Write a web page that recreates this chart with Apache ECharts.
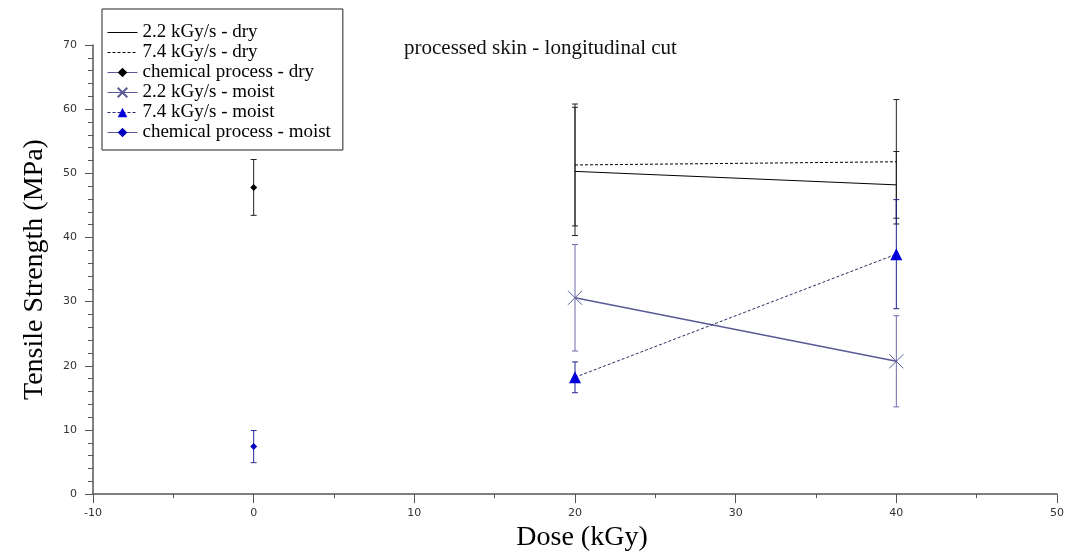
<!DOCTYPE html>
<html>
<head>
<meta charset="utf-8">
<script src="https://cdn.jsdelivr.net/npm/echarts@6/dist/echarts.min.js"></script>
<style>
  html, body { margin: 0; padding: 0; background: #fff; }
  #chart { width: 1068px; height: 557px; }
</style>
</head>
<body>
<div id="chart"></div>
<script>
// dose (kGy) of each measured group
var doses = [20, 40];
var chemDose = [0];

// dry samples: mean and error (MPa)
var dry22 = [50.3, 48.2];
var dry22Err = [10.0, 5.2];
var dry74 = [51.3, 51.8];
var dry74Err = [9.5, 9.7];
var chemDry = [47.8];
var chemDryErr = [4.35];

// moist samples
var moist22 = [30.6, 20.7];
var moist22Err = [8.3, 7.1];
var moist74 = [18.2, 37.4];
var moist74Err = [2.4, 8.5];
var chemMoist = [7.4];
var chemMoistErr = [2.5];

var serif = 'Liberation Serif';

function pairs(xs, ys) {
    return xs.map(function (x, i) { return [x, ys[i]]; });
}

//error bar as custom series
function errSeries(name, xs, ys, es, color) {
    return {
        name: name,
        type: 'custom',
        z: 1,
        data: xs.map(function (x, i) { return [x, ys[i], es[i]]; }),
        renderItem: function (params, api) {
            var x = api.value(0), y = api.value(1), e = api.value(2);
            var top = api.coord([x, y + e]);
            var bot = api.coord([x, y - e]);
            var st = { stroke: color, lineWidth: 1 };
            return {
                type: 'group',
                children: [
                    { type: 'line', shape: { x1: top[0], y1: top[1], x2: bot[0], y2: bot[1] }, style: st },
                    { type: 'line', shape: { x1: top[0] - 3, y1: top[1], x2: top[0] + 3, y2: top[1] }, style: st },
                    { type: 'line', shape: { x1: bot[0] - 3, y1: bot[1], x2: bot[0] + 3, y2: bot[1] }, style: st }
                ]
            };
        }
    };
}

var names = ['2.2 kGy/s - dry', '7.4 kGy/s - dry', 'chemical process - dry',
    '2.2 kGy/s - moist', '7.4 kGy/s - moist', 'chemical process - moist'];

var chart = echarts.init(document.getElementById('chart'));
var option = {
    animation: false,
    title: {
        text: 'processed skin - longitudinal cut',
        left: 399, top: 33,
        textStyle: { fontFamily: serif, fontSize: 21, fontWeight: 'normal', color: '#111' }
    },
    legend: {
        //lines without markers: hide the legend symbol
        data: names.map(function (n, i) {
            return i < 2 ? { name: n, itemStyle: { opacity: 0 } } : n;
        }),
        orient: 'vertical',
        left: 102, top: 9,
        itemWidth: 30, itemHeight: 12, itemGap: 1,
        padding: [14, 12, 8, 5],
        borderColor: '#222', borderWidth: 1,
        lineStyle: { width: 1 },
        textStyle: { fontFamily: serif, fontSize: 19, color: '#000' }
    },
    grid: { left: 93, right: 11, top: 45, bottom: 60 },
    xAxis: {
        type: 'value', min: -10, max: 50, interval: 10,
        name: 'Dose (kGy)', nameLocation: 'middle', nameGap: 27,
        nameTextStyle: { fontFamily: serif, fontSize: 28, color: '#000', padding: [0, 0, 0, 14] },
        axisLine: { onZero: false, lineStyle: { color: '#555', width: 1.5 } },
        axisTick: { length: 9, lineStyle: { color: '#555' } },
        minorTick: { show: true, splitNumber: 2, length: 4, lineStyle: { color: '#555' } },
        splitLine: { show: false },
        axisLabel: { margin: 14, fontFamily: 'DejaVu Sans', fontSize: 11, color: '#333' }
    },
    yAxis: {
        type: 'value', min: 0, max: 70, interval: 10,
        name: 'Tensile Strength (MPa)', nameLocation: 'middle', nameGap: 44,
        nameTextStyle: { fontFamily: serif, fontSize: 28, color: '#000' },
        axisLine: { show: true, onZero: false, lineStyle: { color: '#555', width: 1.5 } },
        axisTick: { show: true, length: 8, lineStyle: { color: '#555' } },
        minorTick: { show: true, splitNumber: 5, length: 5, lineStyle: { color: '#555' } },
        splitLine: { show: false },
        axisLabel: { margin: 16, fontFamily: 'DejaVu Sans', fontSize: 11, color: '#333' }
    },
    series: [
        errSeries('e1', doses, dry22, dry22Err, '#222'),
        errSeries('e2', doses, dry74, dry74Err, '#222'),
        errSeries('e3', chemDose, chemDry, chemDryErr, '#222'),
        errSeries('e4', doses, moist22, moist22Err, '#6d6da8'),
        errSeries('e5', doses, moist74, moist74Err, '#22228f'),
        errSeries('e6', chemDose, chemMoist, chemMoistErr, '#2a2aa0'),
        {
            name: names[0], type: 'line', data: pairs(doses, dry22), symbol: 'none',
            itemStyle: { color: '#000' }, lineStyle: { color: '#000', width: 1 }
        },
        {
            name: names[1], type: 'line', data: pairs(doses, dry74), symbol: 'none',
            itemStyle: { color: '#000' }, lineStyle: { color: '#000', width: 1, type: [3, 2] }
        },
        {
            name: names[2], type: 'line', data: pairs(chemDose, chemDry),
            symbol: 'diamond', symbolSize: 7,
            itemStyle: { color: '#000' }, lineStyle: { color: '#5a5a96', width: 1.2 }
        },
        {
            name: names[3], type: 'line', data: pairs(doses, moist22),
            symbol: 'path://M0,0L10,10M10,0L0,10', symbolSize: 14,
            itemStyle: { color: 'transparent', borderColor: '#5a5a96', borderWidth: 1 },
            lineStyle: { color: '#5a5a96', width: 1.5 }
        },
        {
            name: names[4], type: 'line', data: pairs(doses, moist74),
            symbol: 'triangle', symbolSize: 12,
            itemStyle: { color: '#0000dd' }, lineStyle: { color: '#2b2b66', width: 1, type: [3, 2] }
        },
        {
            name: names[5], type: 'line', data: pairs(chemDose, chemMoist),
            symbol: 'diamond', symbolSize: 7,
            itemStyle: { color: '#0000c0' }, lineStyle: { color: '#5a5a96', width: 1.2 }
        }
    ]
};
chart.setOption(option);
</script>
</body>
</html>
